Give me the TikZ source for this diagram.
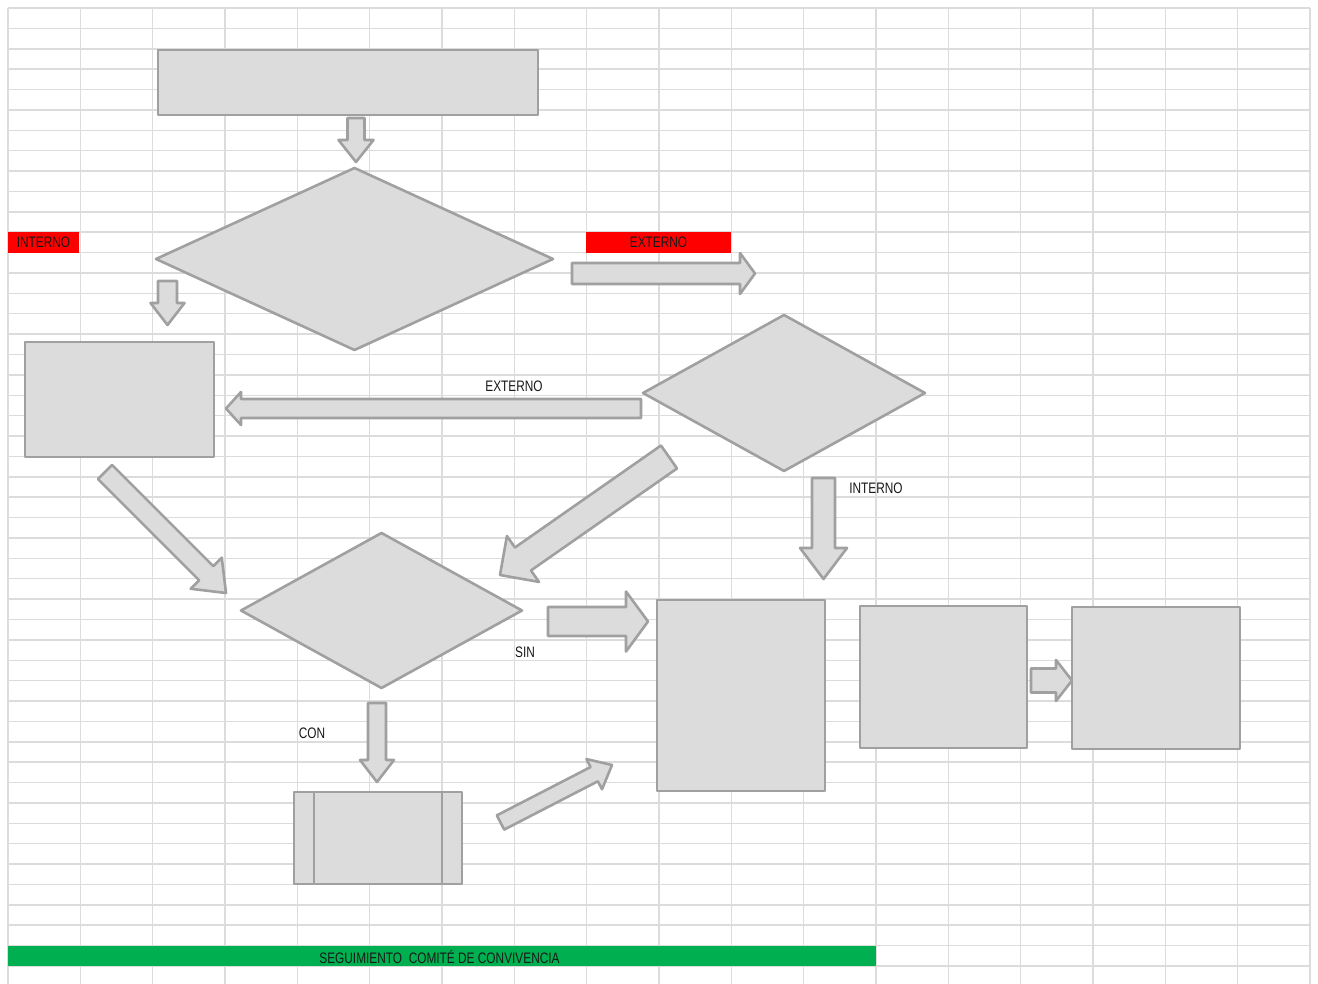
\documentclass[tikz,border=0pt]{standalone}
\usepackage{fontspec}
\newfontfamily\narrowfont[FakeStretch=0.78]{Liberation Sans}
\usetikzlibrary{shapes.geometric}
\definecolor{gridc}{HTML}{DCDCDC}
\definecolor{shapefill}{HTML}{DCDCDC}
\definecolor{shapeline}{HTML}{A0A0A0}
\definecolor{redlab}{HTML}{FF0000}
\definecolor{greenbar}{HTML}{00B050}
\tikzset{
  gridline/.style={draw=gridc, line width=1.5pt},
  shp/.style={fill=shapefill, draw=shapeline, line width=2.6pt, line join=round},
  boxnode/.style={shp, rectangle, inner sep=0pt, outer sep=0pt},
  dia/.style={shp, diamond, inner sep=0pt, outer sep=0pt},
  lbl/.style={font=\narrowfont\fontsize{15.2}{16}\selectfont, text=black!90, inner sep=0pt},
}
\newcommand{\barrow}[7]{%
  \pgfmathsetmacro{\bdx}{#3-#1}%
  \pgfmathsetmacro{\bdy}{#4-#2}%
  \pgfmathsetmacro{\bang}{atan2(-\bdy,\bdx)}%
  \pgfmathsetmacro{\blen}{veclen(\bdx,\bdy)}%
  \pgfmathsetmacro{\bneck}{\blen-#7}%
  \draw[shp, shift={(#1,#2)}, rotate=\bang]
    (0,-#5) -- (\bneck,-#5) -- (\bneck,-#6) -- (\blen,0) -- (\bneck,#6) -- (\bneck,#5) -- (0,#5) -- cycle;}
\begin{document}
\begin{tikzpicture}[x=1pt,y=-1pt]
\useasboundingbox (0,0) rectangle (1318,984);
\fill[white] (0,0) rectangle (1318,984);
% grid
\foreach \k in {0,...,47} {
  \draw[gridline] (8,{8+20.383*\k}) -- (1310,{8+20.383*\k});
}
\foreach \k in {0,...,18} {
  \draw[gridline] ({8+72.33*\k},8) -- ({8+72.33*\k},984);
}
% labels with fill
\node[fill=redlab, minimum width=71pt, minimum height=21pt, inner sep=0pt] (lint) at (43.5,242.5) {};
\node[lbl] at (lint.center) {INTERNO};
\node[fill=redlab, minimum width=145pt, minimum height=21pt, inner sep=0pt] (lext) at (658.5,242.5) {};
\node[lbl] at (lext.center) {EXTERNO};
\node[fill=greenbar, minimum width=868pt, minimum height=20pt, inner sep=0pt] (gbar) at (442,956) {};
\node[lbl] at (439.5,957) {SEGUIMIENTO\ \ COMITÉ DE CONVIVENCIA};
% boxes
\node[boxnode, minimum width=380pt, minimum height=65pt] (top) at (348,82.5) {};
\node[boxnode, minimum width=189pt, minimum height=115pt] (lbox) at (119.5,399.5) {};
\node[boxnode, minimum width=168pt, minimum height=191pt] (big) at (741,695.5) {};
\node[boxnode, minimum width=167pt, minimum height=142pt] (box2) at (943.5,677) {};
\node[boxnode, minimum width=168pt, minimum height=142pt] (box3) at (1156,678) {};
\node[boxnode, minimum width=168pt, minimum height=92pt] (pp) at (378,838) {};
\draw[shapeline, line width=2.6pt] (314,792) -- (314,884) (442,792) -- (442,884);
% diamonds
\node[dia, minimum width=397pt, minimum height=182pt] (d1) at (354.5,259) {};
\node[dia, minimum width=282pt, minimum height=156pt] (d2) at (784,393) {};
\node[dia, minimum width=281pt, minimum height=155pt] (d3) at (381.5,610.5) {};
% block arrows
\barrow{356}{118}{356}{162}{8.5}{17.5}{22}
\barrow{572}{273.5}{755}{273.5}{10.5}{20.5}{15}
\barrow{167.5}{281}{167.5}{325}{9.5}{17}{22}
\barrow{641}{408.5}{226}{408.5}{9.5}{16.5}{15}
\barrow{105}{472}{226}{593}{10}{22}{28}
\barrow{669}{457}{500}{575}{14}{28}{28}
\barrow{823.5}{478}{823.5}{579}{11.5}{23.5}{31}
\barrow{548}{621.5}{648}{621.5}{14.5}{30}{22}
\barrow{377}{703}{377}{782}{9}{17}{22}
\barrow{500.5}{822.5}{612}{765}{8}{17}{20}
\barrow{1031}{680.5}{1072}{680.5}{12}{20.5}{16}
% text labels
\node[lbl] (t1) at (514,386) {EXTERNO};
\node[lbl] (t2) at (876,488) {INTERNO};
\node[lbl] (t3) at (525,652) {SIN};
\node[lbl] (t4) at (312,733) {CON};
\end{tikzpicture}
\end{document}
